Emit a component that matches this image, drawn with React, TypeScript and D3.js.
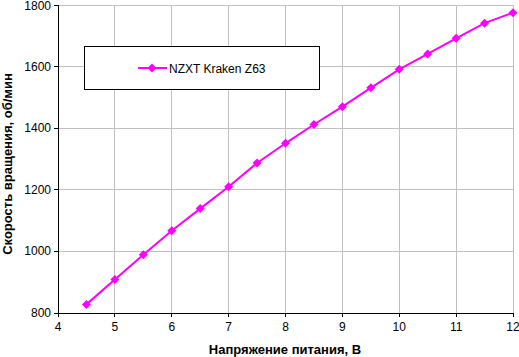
import React from "react";
import * as d3 from "d3";

const voltages = [4.5, 5, 5.5, 6, 6.5, 7, 7.5, 8, 8.5, 9, 9.5, 10, 10.5, 11, 11.5, 12];
const rpm = [828, 909, 989, 1067, 1139, 1210, 1287, 1351, 1412, 1470, 1531, 1591, 1641, 1692, 1741, 1775];
const xTicks = [4, 5, 6, 7, 8, 9, 10, 11, 12];
const yTicks = [800, 1000, 1200, 1400, 1600, 1800];
const seriesName = "NZXT Kraken Z63";
const xTitle = "Напряжение питания, В";
const yTitle = "Скорость вращения, об/мин";

export default function App() {
  const W = 519, H = 357;
  const L = 58, R = 513, T = 5, B = 313;
  const x = d3.scaleLinear().domain([4, 12]).range([L, R]);
  const y = d3.scaleLinear().domain([800, 1800]).range([B, T]);
  const line = d3.line<number>().x((_, i) => x(voltages[i])).y((d) => y(d));
  const font = "'Liberation Sans', Arial, sans-serif";
  const diamond = (cx: number, cy: number, r = 4.5) =>
    `M${cx},${cy - r}L${cx + r},${cy}L${cx},${cy + r}L${cx - r},${cy}Z`;
  const magenta = "#ff00ff";
  return (
    <svg width={W} height={H} style={{ position: "absolute", left: 0, top: 0 }} fontFamily={font}>
      <rect x={0} y={0} width={W} height={H} fill="#fff" />
      {xTicks.map((t) => (
        <line key={"gx" + t} x1={x(t)} x2={x(t)} y1={T} y2={B} stroke="#c0c0c0" strokeWidth={1} shapeRendering="crispEdges" />
      ))}
      {yTicks.map((t) => (
        <line key={"gy" + t} x1={L} x2={R} y1={y(t)} y2={y(t)} stroke="#c0c0c0" strokeWidth={1} shapeRendering="crispEdges" />
      ))}
      <line x1={L} x2={L} y1={T} y2={B} stroke="#000" shapeRendering="crispEdges" />
      <line x1={L} x2={R} y1={B} y2={B} stroke="#000" shapeRendering="crispEdges" />
      {xTicks.map((t) => (
        <g key={"tx" + t}>
          <line x1={x(t)} x2={x(t)} y1={B} y2={B + 4} stroke="#000" shapeRendering="crispEdges" />
          <text x={x(t)} y={B + 18} fontSize={12} textAnchor="middle" fill="#000">{t}</text>
        </g>
      ))}
      {yTicks.map((t) => (
        <g key={"ty" + t}>
          <line x1={L - 4} x2={L} y1={y(t)} y2={y(t)} stroke="#000" shapeRendering="crispEdges" />
          <text x={L - 7} y={Math.max(y(t) + 4, 10)} fontSize={12} textAnchor="end" fill="#000">{t}</text>
        </g>
      ))}
      <path d={line(rpm) || ""} fill="none" stroke={magenta} strokeWidth={2} />
      {rpm.map((v, i) => (
        <path key={"m" + i} d={diamond(x(voltages[i]), y(v))} fill={magenta} />
      ))}
      <rect x={84.5} y={46.5} width={235} height={43} fill="#fff" stroke="#000" strokeWidth={1} />
      <line x1={138} x2={167} y1={68} y2={68} stroke={magenta} strokeWidth={2} />
      <path d={diamond(152, 68)} fill={magenta} />
      <text x={169} y={72.5} fontSize={12} fill="#000">{seriesName}</text>
      <text x={285} y={354} fontSize={13} fontWeight="bold" textAnchor="middle" fill="#000">{xTitle}</text>
      <text transform={`translate(12,164) rotate(-90)`} fontSize={13} fontWeight="bold" textAnchor="middle" fill="#000">{yTitle}</text>
    </svg>
  );
}
